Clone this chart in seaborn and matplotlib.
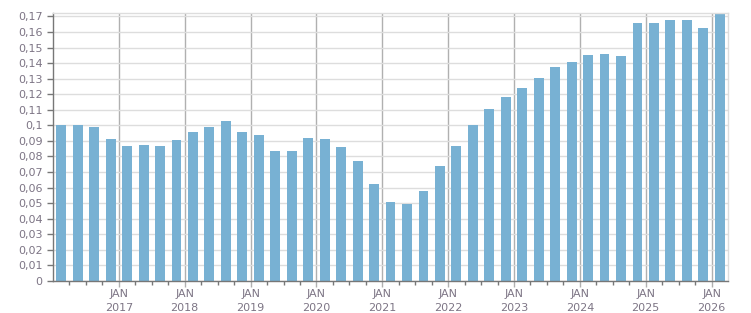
import numpy as np
import pandas as pd
import matplotlib
matplotlib.use('Agg')
import matplotlib.pyplot as plt
import seaborn as sns

# quarterly values, Q1 2016 .. Q1 2026
years = list(range(2016, 2027))
quarters = [f"{y}Q{q}" for y in years for q in range(1, 5)][:41]
values = [0.1005, 0.1005, 0.0992, 0.0914,
          0.0868, 0.0875, 0.0868, 0.0907,
          0.0958, 0.0992, 0.1030, 0.0958,
          0.0940, 0.0838, 0.0838, 0.0920,
          0.0914, 0.0862, 0.0773, 0.0621,
          0.0505, 0.0492, 0.0581, 0.0741,
          0.0868, 0.1003, 0.1105, 0.1183,
          0.1243, 0.1307, 0.1378, 0.1410,
          0.1449, 0.1456, 0.1443, 0.1655,
          0.1655, 0.1674, 0.1680, 0.1623,
          0.1718]
yticks = [i / 100 for i in range(0, 18)]
jan_labels = [f"JAN\n{y}" for y in range(2017, 2027)]

df = pd.DataFrame({'quarter': quarters, 'value': values})

bar_color = '#78b1d3'
text_color = '#7d7585'

fig = plt.figure(figsize=(7.51, 3.13), dpi=100)
ax = fig.add_axes([0.0706, 0.1022, 0.8988, 0.8563])

sns.barplot(data=df, x='quarter', y='value', color=bar_color, saturation=1,
            width=0.6, ax=ax)

ax.set_xlim(-0.5, len(quarters) - 0.5)
ax.set_ylim(0, 0.1722)

# y axis
ax.set_yticks(yticks)
ax.set_yticklabels(['0' if v == 0 else f"{v:g}".replace('.', ',') for v in yticks])
ax.yaxis.grid(True, color='#dddddd', linewidth=1)

# x axis: JAN ticks at year boundaries, minor ticks at quarters
jan_pos = [4 * (y - 2016) - 0.5 for y in range(2017, 2027)]
ax.set_xticks(jan_pos)
ax.set_xticklabels(jan_labels)
ax.set_xticks([i - 0.5 for i in range(1, len(quarters))], minor=True)
ax.xaxis.grid(True, which='major', color='#b0b0b0', linewidth=1)
ax.set_axisbelow(True)

ax.tick_params(axis='both', which='major', labelsize=8, labelcolor=text_color,
               color='#777777', length=4, width=1)
ax.tick_params(axis='x', which='major', length=4, color='#b0b0b0', pad=2)
ax.tick_params(axis='x', which='minor', length=3, color='#777777', width=1)
for lab in ax.get_xticklabels():
    lab.set_linespacing(1.45)

ax.set_xlabel('')
ax.set_ylabel('')

for side in ['left', 'bottom']:
    ax.spines[side].set_color('#777777')
    ax.spines[side].set_linewidth(1)
for side in ['top', 'right']:
    ax.spines[side].set_color('#dddddd')
    ax.spines[side].set_linewidth(1)

fig.savefig('out.png', dpi=100)
